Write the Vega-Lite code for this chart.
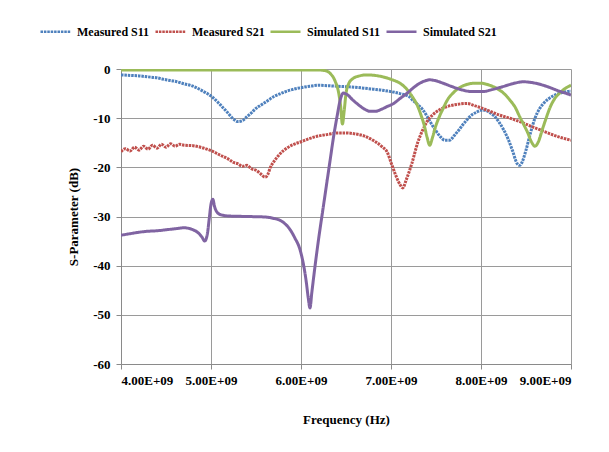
{
  "$schema": "https://vega.github.io/schema/vega-lite/v6.json",
  "width": 450,
  "height": 295,
  "autosize": {"type": "none"},
  "padding": {"left": 121, "top": 69, "right": 38, "bottom": 88},
  "background": "white",
  "config": {
    "font": "Liberation Serif",
    "view": {"stroke": null},
    "axis": {
      "domainColor": "#8a8a8a",
      "gridColor": "#9a9a9a",
      "gridWidth": 1,
      "tickColor": "#8a8a8a",
      "tickSize": 5,
      "labelFont": "Liberation Serif",
      "labelFontWeight": "bold",
      "labelFontSize": 13,
      "labelColor": "#000",
      "titleFont": "Liberation Serif",
      "titleFontWeight": "bold",
      "titleFontSize": 13,
      "titleColor": "#000"
    }
  },
  "data": {
    "values": [
      {"s":"Measured S11","f":4.00e9,"v":-1.2},{"s":"Measured S11","f":4.10e9,"v":-1.3},{"s":"Measured S11","f":4.20e9,"v":-1.4},{"s":"Measured S11","f":4.30e9,"v":-1.6},{"s":"Measured S11","f":4.40e9,"v":-1.8},{"s":"Measured S11","f":4.50e9,"v":-2.2},{"s":"Measured S11","f":4.60e9,"v":-2.5},{"s":"Measured S11","f":4.70e9,"v":-3.0},{"s":"Measured S11","f":4.80e9,"v":-3.5},{"s":"Measured S11","f":4.90e9,"v":-4.4},{"s":"Measured S11","f":5.00e9,"v":-5.5},{"s":"Measured S11","f":5.05e9,"v":-6.3},{"s":"Measured S11","f":5.10e9,"v":-7.2},{"s":"Measured S11","f":5.15e9,"v":-8.2},{"s":"Measured S11","f":5.20e9,"v":-9.2},{"s":"Measured S11","f":5.25e9,"v":-10.2},{"s":"Measured S11","f":5.30e9,"v":-10.7},{"s":"Measured S11","f":5.35e9,"v":-10.5},{"s":"Measured S11","f":5.40e9,"v":-9.7},{"s":"Measured S11","f":5.45e9,"v":-8.9},{"s":"Measured S11","f":5.50e9,"v":-8.0},{"s":"Measured S11","f":5.55e9,"v":-7.4},{"s":"Measured S11","f":5.60e9,"v":-6.8},{"s":"Measured S11","f":5.70e9,"v":-5.6},{"s":"Measured S11","f":5.80e9,"v":-4.8},{"s":"Measured S11","f":5.90e9,"v":-4.2},{"s":"Measured S11","f":6.00e9,"v":-3.8},{"s":"Measured S11","f":6.10e9,"v":-3.5},{"s":"Measured S11","f":6.20e9,"v":-3.3},{"s":"Measured S11","f":6.30e9,"v":-3.4},{"s":"Measured S11","f":6.40e9,"v":-3.5},{"s":"Measured S11","f":6.50e9,"v":-3.6},{"s":"Measured S11","f":6.60e9,"v":-3.7},{"s":"Measured S11","f":6.70e9,"v":-3.9},{"s":"Measured S11","f":6.80e9,"v":-4.1},{"s":"Measured S11","f":6.90e9,"v":-4.3},{"s":"Measured S11","f":7.00e9,"v":-4.6},{"s":"Measured S11","f":7.10e9,"v":-5.0},{"s":"Measured S11","f":7.20e9,"v":-5.6},{"s":"Measured S11","f":7.25e9,"v":-6.5},{"s":"Measured S11","f":7.30e9,"v":-7.3},{"s":"Measured S11","f":7.35e9,"v":-8.2},{"s":"Measured S11","f":7.40e9,"v":-9.6},{"s":"Measured S11","f":7.45e9,"v":-11.2},{"s":"Measured S11","f":7.50e9,"v":-12.6},{"s":"Measured S11","f":7.55e9,"v":-13.8},{"s":"Measured S11","f":7.60e9,"v":-14.5},{"s":"Measured S11","f":7.65e9,"v":-14.5},{"s":"Measured S11","f":7.70e9,"v":-13.6},{"s":"Measured S11","f":7.75e9,"v":-12.5},{"s":"Measured S11","f":7.80e9,"v":-11.3},{"s":"Measured S11","f":7.85e9,"v":-10.2},{"s":"Measured S11","f":7.90e9,"v":-9.3},{"s":"Measured S11","f":7.95e9,"v":-8.8},{"s":"Measured S11","f":8.00e9,"v":-8.4},{"s":"Measured S11","f":8.05e9,"v":-8.4},{"s":"Measured S11","f":8.10e9,"v":-8.9},{"s":"Measured S11","f":8.15e9,"v":-9.6},{"s":"Measured S11","f":8.20e9,"v":-10.8},{"s":"Measured S11","f":8.25e9,"v":-12.3},{"s":"Measured S11","f":8.30e9,"v":-14.2},{"s":"Measured S11","f":8.35e9,"v":-16.6},{"s":"Measured S11","f":8.40e9,"v":-19.2},{"s":"Measured S11","f":8.43e9,"v":-19.6},{"s":"Measured S11","f":8.46e9,"v":-18.8},{"s":"Measured S11","f":8.50e9,"v":-16.5},{"s":"Measured S11","f":8.55e9,"v":-13.0},{"s":"Measured S11","f":8.60e9,"v":-10.0},{"s":"Measured S11","f":8.65e9,"v":-8.1},{"s":"Measured S11","f":8.70e9,"v":-6.9},{"s":"Measured S11","f":8.80e9,"v":-5.5},{"s":"Measured S11","f":8.90e9,"v":-4.8},{"s":"Measured S11","f":9.00e9,"v":-4.5},

      {"s":"Measured S21","f":4.00e9,"v":-16.8},{"s":"Measured S21","f":4.05e9,"v":-16.2},{"s":"Measured S21","f":4.10e9,"v":-16.7},{"s":"Measured S21","f":4.15e9,"v":-15.9},{"s":"Measured S21","f":4.20e9,"v":-16.5},{"s":"Measured S21","f":4.25e9,"v":-15.7},{"s":"Measured S21","f":4.30e9,"v":-16.3},{"s":"Measured S21","f":4.35e9,"v":-15.5},{"s":"Measured S21","f":4.40e9,"v":-16.1},{"s":"Measured S21","f":4.45e9,"v":-15.3},{"s":"Measured S21","f":4.50e9,"v":-15.9},{"s":"Measured S21","f":4.55e9,"v":-15.2},{"s":"Measured S21","f":4.60e9,"v":-15.7},{"s":"Measured S21","f":4.65e9,"v":-15.3},{"s":"Measured S21","f":4.70e9,"v":-15.5},{"s":"Measured S21","f":4.80e9,"v":-15.6},{"s":"Measured S21","f":4.90e9,"v":-16.0},{"s":"Measured S21","f":5.00e9,"v":-16.6},{"s":"Measured S21","f":5.10e9,"v":-17.5},{"s":"Measured S21","f":5.20e9,"v":-18.4},{"s":"Measured S21","f":5.25e9,"v":-19.0},{"s":"Measured S21","f":5.30e9,"v":-19.3},{"s":"Measured S21","f":5.35e9,"v":-19.8},{"s":"Measured S21","f":5.40e9,"v":-19.6},{"s":"Measured S21","f":5.45e9,"v":-20.3},{"s":"Measured S21","f":5.50e9,"v":-20.6},{"s":"Measured S21","f":5.55e9,"v":-21.3},{"s":"Measured S21","f":5.60e9,"v":-22.0},{"s":"Measured S21","f":5.63e9,"v":-21.5},{"s":"Measured S21","f":5.66e9,"v":-20.0},{"s":"Measured S21","f":5.70e9,"v":-18.8},{"s":"Measured S21","f":5.77e9,"v":-17.2},{"s":"Measured S21","f":5.85e9,"v":-16.0},{"s":"Measured S21","f":5.91e9,"v":-15.4},{"s":"Measured S21","f":6.00e9,"v":-14.8},{"s":"Measured S21","f":6.10e9,"v":-14.1},{"s":"Measured S21","f":6.20e9,"v":-13.6},{"s":"Measured S21","f":6.30e9,"v":-13.3},{"s":"Measured S21","f":6.40e9,"v":-13.0},{"s":"Measured S21","f":6.50e9,"v":-13.0},{"s":"Measured S21","f":6.60e9,"v":-13.2},{"s":"Measured S21","f":6.70e9,"v":-13.6},{"s":"Measured S21","f":6.80e9,"v":-14.5},{"s":"Measured S21","f":6.90e9,"v":-15.8},{"s":"Measured S21","f":6.96e9,"v":-17.0},{"s":"Measured S21","f":7.00e9,"v":-19.0},{"s":"Measured S21","f":7.05e9,"v":-21.5},{"s":"Measured S21","f":7.10e9,"v":-23.5},{"s":"Measured S21","f":7.13e9,"v":-24.2},{"s":"Measured S21","f":7.17e9,"v":-22.5},{"s":"Measured S21","f":7.23e9,"v":-19.3},{"s":"Measured S21","f":7.30e9,"v":-14.8},{"s":"Measured S21","f":7.35e9,"v":-12.5},{"s":"Measured S21","f":7.40e9,"v":-10.7},{"s":"Measured S21","f":7.47e9,"v":-9.2},{"s":"Measured S21","f":7.54e9,"v":-8.3},{"s":"Measured S21","f":7.63e9,"v":-7.6},{"s":"Measured S21","f":7.73e9,"v":-7.2},{"s":"Measured S21","f":7.84e9,"v":-7.0},{"s":"Measured S21","f":7.92e9,"v":-7.4},{"s":"Measured S21","f":8.00e9,"v":-7.9},{"s":"Measured S21","f":8.10e9,"v":-8.6},{"s":"Measured S21","f":8.21e9,"v":-9.4},{"s":"Measured S21","f":8.32e9,"v":-10.0},{"s":"Measured S21","f":8.43e9,"v":-10.7},{"s":"Measured S21","f":8.55e9,"v":-11.6},{"s":"Measured S21","f":8.66e9,"v":-12.4},{"s":"Measured S21","f":8.77e9,"v":-13.2},{"s":"Measured S21","f":8.88e9,"v":-13.9},{"s":"Measured S21","f":9.00e9,"v":-14.5},

      {"s":"Simulated S11","f":4.00e9,"v":-0.2},{"s":"Simulated S11","f":5.00e9,"v":-0.2},{"s":"Simulated S11","f":6.00e9,"v":-0.2},{"s":"Simulated S11","f":6.20e9,"v":-0.2},{"s":"Simulated S11","f":6.28e9,"v":-0.4},{"s":"Simulated S11","f":6.33e9,"v":-1.0},{"s":"Simulated S11","f":6.38e9,"v":-2.5},{"s":"Simulated S11","f":6.42e9,"v":-5.0},{"s":"Simulated S11","f":6.44e9,"v":-7.5},{"s":"Simulated S11","f":6.46e9,"v":-11.2},{"s":"Simulated S11","f":6.48e9,"v":-8.5},{"s":"Simulated S11","f":6.50e9,"v":-5.0},{"s":"Simulated S11","f":6.53e9,"v":-3.0},{"s":"Simulated S11","f":6.58e9,"v":-1.9},{"s":"Simulated S11","f":6.65e9,"v":-1.4},{"s":"Simulated S11","f":6.73e9,"v":-1.2},{"s":"Simulated S11","f":6.82e9,"v":-1.3},{"s":"Simulated S11","f":6.91e9,"v":-1.6},{"s":"Simulated S11","f":7.00e9,"v":-2.1},{"s":"Simulated S11","f":7.10e9,"v":-2.9},{"s":"Simulated S11","f":7.16e9,"v":-3.8},{"s":"Simulated S11","f":7.21e9,"v":-4.9},{"s":"Simulated S11","f":7.25e9,"v":-6.0},{"s":"Simulated S11","f":7.29e9,"v":-7.3},{"s":"Simulated S11","f":7.33e9,"v":-9.2},{"s":"Simulated S11","f":7.37e9,"v":-11.5},{"s":"Simulated S11","f":7.40e9,"v":-13.8},{"s":"Simulated S11","f":7.43e9,"v":-15.5},{"s":"Simulated S11","f":7.46e9,"v":-14.0},{"s":"Simulated S11","f":7.49e9,"v":-12.0},{"s":"Simulated S11","f":7.53e9,"v":-10.0},{"s":"Simulated S11","f":7.58e9,"v":-8.0},{"s":"Simulated S11","f":7.62e9,"v":-6.5},{"s":"Simulated S11","f":7.70e9,"v":-4.7},{"s":"Simulated S11","f":7.77e9,"v":-3.7},{"s":"Simulated S11","f":7.85e9,"v":-3.1},{"s":"Simulated S11","f":7.93e9,"v":-2.9},{"s":"Simulated S11","f":8.00e9,"v":-2.9},{"s":"Simulated S11","f":8.08e9,"v":-3.2},{"s":"Simulated S11","f":8.17e9,"v":-3.9},{"s":"Simulated S11","f":8.25e9,"v":-4.9},{"s":"Simulated S11","f":8.32e9,"v":-6.3},{"s":"Simulated S11","f":8.38e9,"v":-7.8},{"s":"Simulated S11","f":8.43e9,"v":-9.7},{"s":"Simulated S11","f":8.48e9,"v":-11.5},{"s":"Simulated S11","f":8.52e9,"v":-13.0},{"s":"Simulated S11","f":8.56e9,"v":-14.8},{"s":"Simulated S11","f":8.60e9,"v":-15.7},{"s":"Simulated S11","f":8.64e9,"v":-14.7},{"s":"Simulated S11","f":8.68e9,"v":-12.4},{"s":"Simulated S11","f":8.72e9,"v":-10.2},{"s":"Simulated S11","f":8.77e9,"v":-7.7},{"s":"Simulated S11","f":8.82e9,"v":-6.0},{"s":"Simulated S11","f":8.88e9,"v":-4.8},{"s":"Simulated S11","f":8.94e9,"v":-3.9},{"s":"Simulated S11","f":9.00e9,"v":-3.3},

      {"s":"Simulated S21","f":4.00e9,"v":-33.8},{"s":"Simulated S21","f":4.10e9,"v":-33.5},{"s":"Simulated S21","f":4.20e9,"v":-33.2},{"s":"Simulated S21","f":4.30e9,"v":-33.0},{"s":"Simulated S21","f":4.40e9,"v":-32.9},{"s":"Simulated S21","f":4.50e9,"v":-32.7},{"s":"Simulated S21","f":4.60e9,"v":-32.5},{"s":"Simulated S21","f":4.70e9,"v":-32.3},{"s":"Simulated S21","f":4.75e9,"v":-32.4},{"s":"Simulated S21","f":4.80e9,"v":-32.7},{"s":"Simulated S21","f":4.85e9,"v":-33.2},{"s":"Simulated S21","f":4.90e9,"v":-34.2},{"s":"Simulated S21","f":4.93e9,"v":-35.0},{"s":"Simulated S21","f":4.96e9,"v":-33.5},{"s":"Simulated S21","f":4.98e9,"v":-30.5},{"s":"Simulated S21","f":5.00e9,"v":-27.5},{"s":"Simulated S21","f":5.02e9,"v":-26.5},{"s":"Simulated S21","f":5.04e9,"v":-28.0},{"s":"Simulated S21","f":5.07e9,"v":-29.2},{"s":"Simulated S21","f":5.12e9,"v":-29.7},{"s":"Simulated S21","f":5.20e9,"v":-29.9},{"s":"Simulated S21","f":5.40e9,"v":-30.0},{"s":"Simulated S21","f":5.60e9,"v":-30.1},{"s":"Simulated S21","f":5.70e9,"v":-30.4},{"s":"Simulated S21","f":5.77e9,"v":-30.8},{"s":"Simulated S21","f":5.83e9,"v":-31.6},{"s":"Simulated S21","f":5.88e9,"v":-32.7},{"s":"Simulated S21","f":5.93e9,"v":-34.3},{"s":"Simulated S21","f":5.99e9,"v":-36.8},{"s":"Simulated S21","f":6.03e9,"v":-40.0},{"s":"Simulated S21","f":6.06e9,"v":-43.5},{"s":"Simulated S21","f":6.08e9,"v":-46.5},{"s":"Simulated S21","f":6.10e9,"v":-48.6},{"s":"Simulated S21","f":6.12e9,"v":-45.5},{"s":"Simulated S21","f":6.16e9,"v":-39.5},{"s":"Simulated S21","f":6.20e9,"v":-34.0},{"s":"Simulated S21","f":6.24e9,"v":-29.0},{"s":"Simulated S21","f":6.28e9,"v":-24.0},{"s":"Simulated S21","f":6.32e9,"v":-19.0},{"s":"Simulated S21","f":6.36e9,"v":-14.0},{"s":"Simulated S21","f":6.40e9,"v":-9.7},{"s":"Simulated S21","f":6.44e9,"v":-6.0},{"s":"Simulated S21","f":6.47e9,"v":-4.9},{"s":"Simulated S21","f":6.52e9,"v":-5.3},{"s":"Simulated S21","f":6.57e9,"v":-6.2},{"s":"Simulated S21","f":6.62e9,"v":-7.0},{"s":"Simulated S21","f":6.70e9,"v":-8.1},{"s":"Simulated S21","f":6.77e9,"v":-8.6},{"s":"Simulated S21","f":6.83e9,"v":-8.6},{"s":"Simulated S21","f":6.88e9,"v":-8.3},{"s":"Simulated S21","f":6.95e9,"v":-7.7},{"s":"Simulated S21","f":7.03e9,"v":-7.0},{"s":"Simulated S21","f":7.10e9,"v":-6.0},{"s":"Simulated S21","f":7.18e9,"v":-4.9},{"s":"Simulated S21","f":7.25e9,"v":-3.8},{"s":"Simulated S21","f":7.32e9,"v":-2.9},{"s":"Simulated S21","f":7.38e9,"v":-2.4},{"s":"Simulated S21","f":7.43e9,"v":-2.2},{"s":"Simulated S21","f":7.50e9,"v":-2.4},{"s":"Simulated S21","f":7.58e9,"v":-2.9},{"s":"Simulated S21","f":7.68e9,"v":-3.6},{"s":"Simulated S21","f":7.80e9,"v":-4.3},{"s":"Simulated S21","f":7.90e9,"v":-4.6},{"s":"Simulated S21","f":8.02e9,"v":-4.6},{"s":"Simulated S21","f":8.12e9,"v":-4.2},{"s":"Simulated S21","f":8.24e9,"v":-3.6},{"s":"Simulated S21","f":8.35e9,"v":-3.0},{"s":"Simulated S21","f":8.47e9,"v":-2.6},{"s":"Simulated S21","f":8.58e9,"v":-2.8},{"s":"Simulated S21","f":8.69e9,"v":-3.3},{"s":"Simulated S21","f":8.77e9,"v":-3.8},{"s":"Simulated S21","f":8.84e9,"v":-4.3},{"s":"Simulated S21","f":8.92e9,"v":-4.8},{"s":"Simulated S21","f":9.00e9,"v":-5.3}
    ]
  },
  "mark": {"type": "line", "strokeWidth": 3, "interpolate": "monotone", "clip": true},
  "encoding": {
    "x": {
      "field": "f",
      "type": "quantitative",
      "scale": {"domain": [4e9, 9e9], "nice": false, "zero": false},
      "axis": {
        "title": "Frequency (Hz)",
        "values": [4e9, 5e9, 6e9, 7e9, 8e9, 9e9],
        "labelExpr": "format(datum.value / 1e9, '.2f') + 'E+09'",
        "labelPadding": 5,
        "titlePadding": 26,
        "grid": true
      }
    },
    "y": {
      "field": "v",
      "type": "quantitative",
      "scale": {"domain": [-60, 0], "nice": false, "zero": false},
      "axis": {
        "title": "S-Parameter (dB)",
        "values": [-60, -50, -40, -30, -20, -10, 0],
        "labelExpr": "'' + datum.value",
        "labelPadding": 6,
        "titlePadding": 12,
        "grid": true
      }
    },
    "color": {
      "field": "s",
      "type": "nominal",
      "scale": {
        "domain": ["Measured S11", "Measured S21", "Simulated S11", "Simulated S21"],
        "range": ["#4F81BD", "#C0504D", "#9BBB59", "#8064A2"]
      },
      "legend": {
        "title": null,
        "orient": "none",
        "direction": "horizontal",
        "legendX": -82,
        "legendY": -54,
        "symbolType": "stroke",
        "symbolSize": 900,
        "symbolStrokeWidth": 2.5,
        "labelFont": "Liberation Serif",
        "labelFontWeight": "bold",
        "labelFontSize": 12,
        "labelColor": "#000",
        "labelOffset": 5,
        "columnPadding": 0
      }
    },
    "strokeDash": {
      "field": "s",
      "type": "nominal",
      "scale": {
        "domain": ["Measured S11", "Measured S21", "Simulated S11", "Simulated S21"],
        "range": [[2.5, 0.9], [2.5, 0.9], [1, 0], [1, 0]]
      },
      "legend": null
    }
  }
}
